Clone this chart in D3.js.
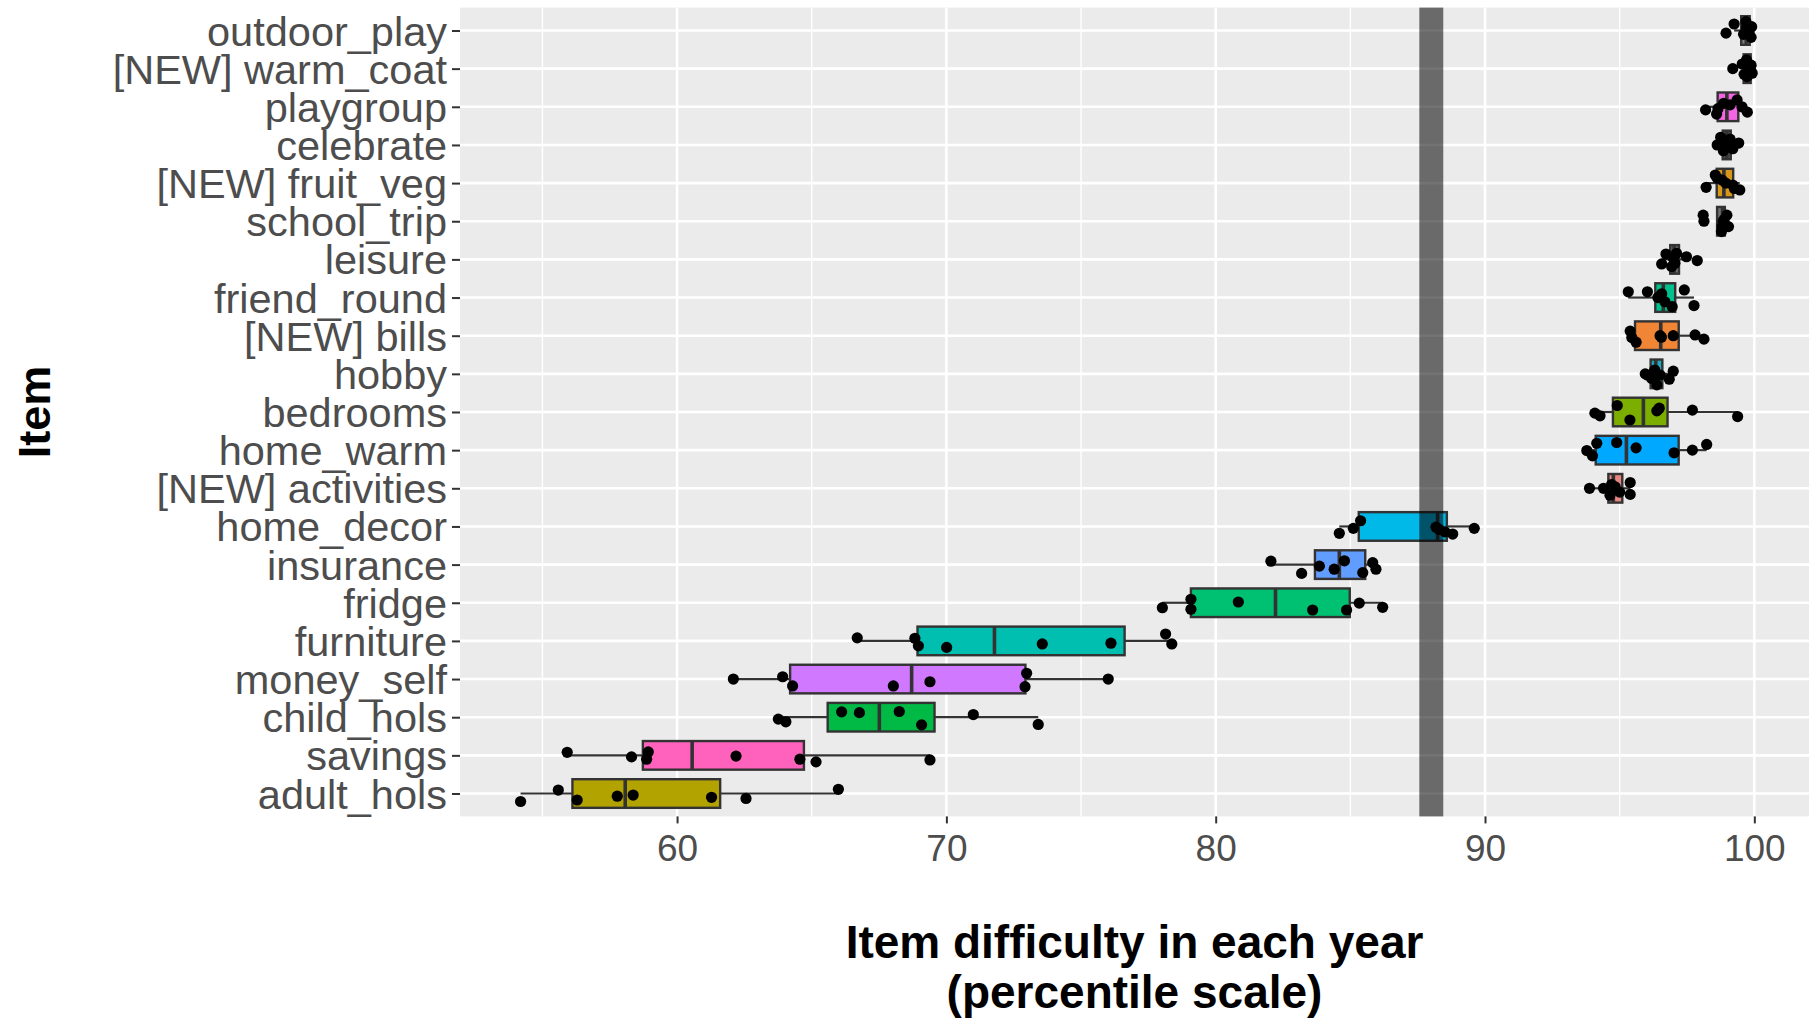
<!DOCTYPE html>
<html>
<head>
<meta charset="utf-8">
<script src="https://cdnjs.cloudflare.com/ajax/libs/d3/7.8.5/d3.min.js"></script>
<style>
  body { margin: 0; background: #fff; }
  text { font-family: "Liberation Sans", Arial, sans-serif; }
</style>
</head>
<body>
<div id="graphic"></div>
<script>
// items, top row first
var items = ["outdoor_play", "[NEW] warm_coat", "playgroup", "celebrate", "[NEW] fruit_veg",
  "school_trip", "leisure", "friend_round", "[NEW] bills", "hobby", "bedrooms", "home_warm",
  "[NEW] activities", "home_decor", "insurance", "fridge", "furniture", "money_self",
  "child_hols", "savings", "adult_hols"];

// item difficulty in each year (percentile scale)
var outdoorPlay = [98.95, 99.25, 99.69, 99.81, 99.88, 99.71, 99.6, 99.9];
var warmCoat = [99.2, 99.71, 99.73, 99.86, 99.88, 99.92, 99.55, 99.62];
var playgroup = [98.19, 98.6, 98.86, 99.36, 99.54, 99.74, 98.65, 99.1];
var celebrate = [98.62, 98.75, 98.85, 98.95, 99.0, 99.1, 99.2, 99.42];
var fruitVeg = [98.21, 98.55, 98.62, 98.8, 98.94, 99.2, 99.26, 99.46];
var schoolTrip = [98.1, 98.13, 98.78, 98.8, 98.84, 98.88, 98.98, 99.04];
var leisure = [96.56, 96.72, 96.93, 96.99, 97.05, 97.11, 97.48, 97.88];
var friendRound = [95.32, 96.03, 96.42, 96.56, 96.68, 96.95, 97.4, 97.76];
var bills = [95.39, 95.45, 95.61, 96.5, 96.55, 96.99, 97.8, 98.13];
var hobby = [95.95, 96.03, 96.19, 96.3, 96.38, 96.5, 96.84, 96.99];
var bedrooms = [94.08, 94.27, 94.91, 95.38, 96.38, 96.47, 97.7, 99.38];
var homeWarm = [93.78, 93.99, 94.15, 94.89, 95.61, 97.02, 97.7, 98.23];
var activities = [93.88, 94.4, 94.64, 94.7, 94.83, 95.0, 95.39, 95.39];
var homeDecor = [84.59, 85.11, 85.38, 88.18, 88.3, 88.51, 88.8, 89.6];
var insurance = [82.05, 83.19, 83.85, 84.4, 84.78, 85.46, 85.83, 85.95];
var fridge = [78.02, 79.08, 79.08, 80.84, 83.6, 84.86, 85.33, 86.2];
var furniture = [66.69, 68.83, 68.96, 70.01, 73.56, 76.11, 78.14, 78.37];
var moneySelf = [62.09, 63.92, 64.29, 68.03, 69.39, 72.98, 72.92, 76.01];
var childHols = [63.76, 64.04, 66.11, 66.77, 68.25, 69.08, 71.0, 73.41];
var savings = [55.92, 58.31, 58.93, 58.87, 62.19, 64.56, 65.16, 69.39];
var adultHols = [54.19, 55.59, 56.29, 57.78, 58.37, 61.28, 62.56, 65.99];

var itemValues = [outdoorPlay, warmCoat, playgroup, celebrate, fruitVeg, schoolTrip, leisure,
  friendRound, bills, hobby, bedrooms, homeWarm, activities, homeDecor, insurance, fridge,
  furniture, moneySelf, childHols, savings, adultHols];

// vertical jitter of each dot, in row units
var jitter = [
  [0.07, -0.17, -0.23, 0.07, 0.18, -0.06, 0.1, -0.1],
  [0, -0.23, 0.21, 0.04, -0.09, 0.12, -0.12, 0.15],
  [0.08, 0.19, -0.09, -0.18, 0, 0.14, 0.05, -0.05],
  [0, -0.2, 0.15, -0.1, 0.05, -0.15, 0.1, -0.05],
  [0.11, -0.21, -0.13, -0.08, 0, 0.05, 0.14, 0.18],
  [-0.16, 0, 0.27, 0.14, 0, -0.05, -0.16, 0.14],
  [0.12, -0.14, 0.19, -0.03, 0.1, -0.16, -0.07, 0.03],
  [-0.15, -0.15, 0, -0.1, 0.11, 0.24, -0.2, 0.21],
  [-0.12, 0.05, 0.17, 0, 0.04, 0, -0.02, 0.09],
  [0, 0.03, 0.12, -0.1, 0.29, 0.03, 0.14, -0.07],
  [0.03, 0.1, -0.17, 0.21, -0.03, -0.1, -0.05, 0.12],
  [0.01, 0.15, -0.18, -0.2, -0.06, 0.07, 0, -0.15],
  [0, 0, 0.18, -0.1, -0.04, 0.1, -0.15, 0.16],
  [0.18, 0.05, -0.15, 0.02, 0.08, 0.14, 0.2, 0.05],
  [-0.09, 0.23, 0.04, 0.12, -0.1, 0.21, -0.05, 0.12],
  [0.13, -0.09, 0.17, -0.02, 0.19, 0.19, 0.01, 0.12],
  [-0.08, -0.07, 0.13, 0.17, 0.08, 0.06, -0.18, 0.08],
  [0, -0.06, 0.18, 0.18, 0.07, -0.15, 0.2, 0],
  [0.05, 0.12, -0.14, -0.12, -0.15, 0.2, -0.07, 0.19],
  [-0.08, 0.04, -0.09, 0.1, 0.02, 0.1, 0.17, 0.12],
  [0.21, -0.09, 0.17, 0.07, 0.04, 0.1, 0.13, -0.11]
];

var boxColours = ["#808080", "#7a7a7a", "#F564E3", "#555555", "#D9971A", "#707070", "#6f6f6f",
  "#00C08B", "#F08536", "#1DA9C0", "#7CAE00", "#00A9FF", "#E8857E", "#00B9E8", "#619CFF",
  "#00C072", "#00BFB0", "#D078FF", "#00BA45", "#FF62BC", "#B3A300"];

var xTicks = [60, 70, 80, 90, 100];
var xMinor = [55, 65, 75, 85, 95];
var refBand = [87.56, 88.45];

var xTitle = ["Item difficulty in each year", "(percentile scale)"];
var yTitle = "Item";

// panel placement
var W = 1809, H = 1019;
var panel = {left: 460, top: 7.6, right: 1809, bottom: 816.4};

var svg = d3.select("#graphic").append("svg")
    .attr("width", W)
    .attr("height", H)
    .style("display", "block");

var x = d3.scaleLinear()
    .domain([51.94, 102.03])
    .range([panel.left, panel.right]);

var y = d3.scalePoint()
    .domain(items)
    .range([panel.top, panel.bottom])
    .padding(0.6);

var step = y.step();
var boxH = step * 0.75;

// panel background and grid
svg.append("rect")
    .attr("x", panel.left).attr("y", panel.top)
    .attr("width", panel.right - panel.left)
    .attr("height", panel.bottom - panel.top)
    .attr("fill", "#EBEBEB");

svg.selectAll("line.minor")
    .data(xMinor)
  .enter().append("line")
    .attr("class", "minor")
    .attr("x1", function(d) { return x(d); }).attr("x2", function(d) { return x(d); })
    .attr("y1", panel.top).attr("y2", panel.bottom)
    .attr("stroke", "#fff").attr("stroke-width", 1.4);

svg.selectAll("line.major")
    .data(xTicks)
  .enter().append("line")
    .attr("class", "major")
    .attr("x1", function(d) { return x(d); }).attr("x2", function(d) { return x(d); })
    .attr("y1", panel.top).attr("y2", panel.bottom)
    .attr("stroke", "#fff").attr("stroke-width", 2.6);

svg.selectAll("line.hgrid")
    .data(items)
  .enter().append("line")
    .attr("class", "hgrid")
    .attr("x1", panel.left).attr("x2", panel.right)
    .attr("y1", function(d) { return y(d); }).attr("y2", function(d) { return y(d); })
    .attr("stroke", "#fff").attr("stroke-width", 2.6);

// box statistics (same quantiles as R type 7)
var stats = items.map(function(name, i) {
  var v = itemValues[i].slice().sort(d3.ascending);
  var q1 = d3.quantile(v, 0.25), med = d3.quantile(v, 0.5), q3 = d3.quantile(v, 0.75);
  var iqr = q3 - q1;
  var lo = d3.min(v.filter(function(d) { return d >= q1 - 1.5 * iqr; }));
  var hi = d3.max(v.filter(function(d) { return d <= q3 + 1.5 * iqr; }));
  return {name: name, q1: q1, med: med, q3: q3, lo: lo, hi: hi, fill: boxColours[i]};
});

var box = svg.selectAll("g.box")
    .data(stats)
  .enter().append("g")
    .attr("class", "box")
    .attr("transform", function(d) { return "translate(0," + y(d.name) + ")"; });

box.append("line")
    .attr("x1", function(d) { return x(d.lo); }).attr("x2", function(d) { return x(d.q1); })
    .attr("stroke", "#333").attr("stroke-width", 2.2);
box.append("line")
    .attr("x1", function(d) { return x(d.q3); }).attr("x2", function(d) { return x(d.hi); })
    .attr("stroke", "#333").attr("stroke-width", 2.2);
box.append("rect")
    .attr("x", function(d) { return x(d.q1); })
    .attr("y", -boxH / 2)
    .attr("width", function(d) { return x(d.q3) - x(d.q1); })
    .attr("height", boxH)
    .attr("fill", function(d) { return d.fill; })
    .attr("stroke", "#333").attr("stroke-width", 2.4);
box.append("line")
    .attr("x1", function(d) { return x(d.med); }).attr("x2", function(d) { return x(d.med); })
    .attr("y1", -boxH / 2).attr("y2", boxH / 2)
    .attr("stroke", "#333").attr("stroke-width", 3.6);

// jittered yearly values
var dots = [];
items.forEach(function(name, i) {
  itemValues[i].forEach(function(v, j) {
    dots.push({name: name, value: v, jit: jitter[i][j]});
  });
});

svg.selectAll("circle.dot")
    .data(dots)
  .enter().append("circle")
    .attr("class", "dot")
    .attr("cx", function(d) { return x(d.value); })
    .attr("cy", function(d) { return y(d.name) + d.jit * step; })
    .attr("r", 5.6)
    .attr("fill", "#000");

// reference band
svg.append("rect")
    .attr("x", x(refBand[0]))
    .attr("y", panel.top)
    .attr("width", x(refBand[1]) - x(refBand[0]))
    .attr("height", panel.bottom - panel.top)
    .attr("fill", "#000")
    .attr("fill-opacity", 0.55);

// axes
var xAxis = svg.append("g")
    .attr("transform", "translate(0," + panel.bottom + ")")
    .call(d3.axisBottom(x).tickValues(xTicks).tickSize(7).tickPadding(11));
xAxis.select(".domain").remove();
xAxis.selectAll(".tick line").attr("stroke", "#333").attr("stroke-width", 2);
xAxis.selectAll(".tick text")
    .attr("fill", "#4D4D4D")
    .style("font-size", "37px")
    .style("font-family", "'Liberation Sans', Arial, sans-serif");

var yAxis = svg.append("g")
    .attr("transform", "translate(" + panel.left + ",0)")
    .call(d3.axisLeft(y).tickSize(8).tickPadding(5));
yAxis.select(".domain").remove();
yAxis.selectAll(".tick line").attr("stroke", "#333").attr("stroke-width", 2);
yAxis.selectAll(".tick text")
    .attr("fill", "#4D4D4D")
    .attr("dy", "0.35em")
    .style("font-size", "41.5px")
    .style("font-family", "'Liberation Sans', Arial, sans-serif");

// titles
svg.selectAll("text.xtitle")
    .data(xTitle)
  .enter().append("text")
    .attr("class", "xtitle")
    .attr("x", (panel.left + panel.right) / 2)
    .attr("y", function(d, i) { return 958 + i * 50; })
    .attr("text-anchor", "middle")
    .style("font-size", "46px")
    .style("font-weight", "bold")
    .text(function(d) { return d; });

svg.append("text")
    .attr("transform", "translate(50," + (panel.top + panel.bottom) / 2 + ") rotate(-90)")
    .attr("text-anchor", "middle")
    .style("font-size", "45px")
    .style("font-weight", "bold")
    .text(yTitle);
</script>
</body>
</html>
